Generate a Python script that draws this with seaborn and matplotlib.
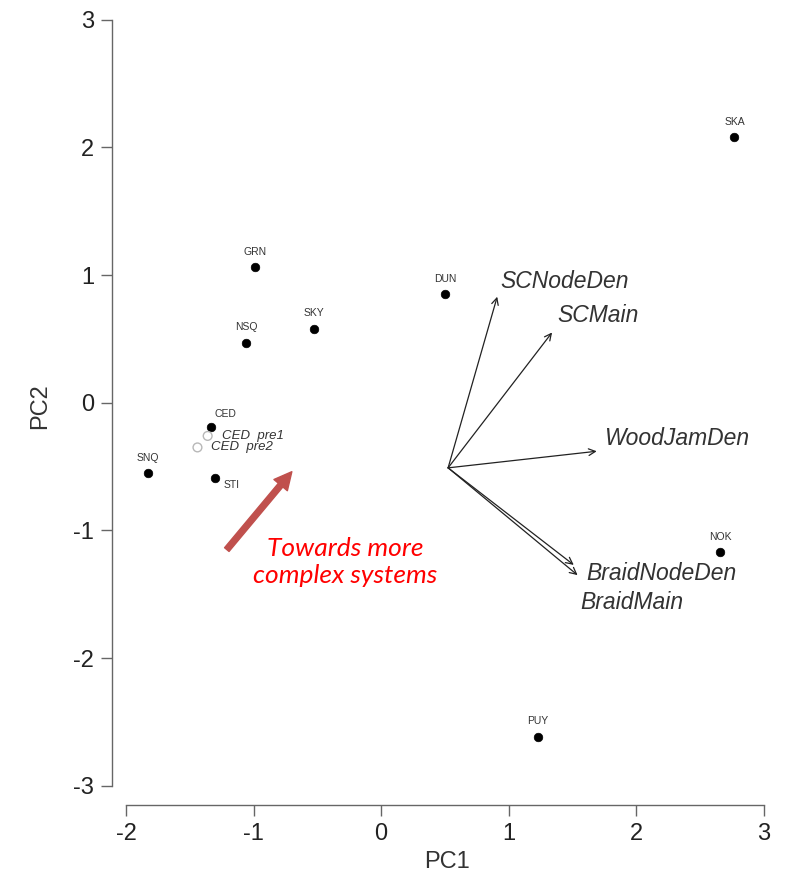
import matplotlib
matplotlib.use("Agg")
import matplotlib.pyplot as plt
import seaborn as sns
import pandas as pd

# --- data ---
sites = ["SKA", "GRN", "DUN", "NSQ", "SKY", "CED", "SNQ", "STI", "NOK", "PUY"]
pc1 = [2.77, -0.99, 0.50, -1.06, -0.53, -1.33, -1.83, -1.30, 2.66, 1.23]
pc2 = [2.08, 1.06, 0.85, 0.47, 0.58, -0.19, -0.55, -0.59, -1.17, -2.62]

pre_sites = ["CED  pre1", "CED  pre2"]
pre_pc1 = [-1.36, -1.44]
pre_pc2 = [-0.26, -0.35]

load_names = ["SCNodeDen", "SCMain", "WoodJamDen", "BraidNodeDen", "BraidMain"]
load_x = [0.91, 1.34, 1.69, 1.51, 1.54]
load_y = [0.83, 0.55, -0.38, -1.27, -1.35]
load_origin = (0.525, -0.51)

x_ticks = [-2, -1, 0, 1, 2, 3]
y_ticks = [-3, -2, -1, 0, 1, 2, 3]

# --- figure ---
sns.set_style("white")
plt.rcParams["font.family"] = ["Liberation Sans", "DejaVu Sans"]

W, H = 785, 880
fig = plt.figure(figsize=(W / 100, H / 100), dpi=100)
xlim = (-2.11, 3.15)
ylim = (-3.15, 3.10)
# axes placement in pixel coordinates
left_px, bottom_px = 112, 805
ppx, ppy = 127.6, 127.8
x0_px = 381
y0_px = 403
right_px = x0_px + xlim[1] * ppx
top_px = y0_px - ylim[1] * ppy
ax = fig.add_axes([left_px / W, (H - bottom_px) / H,
                   (right_px - left_px) / W, (bottom_px - top_px) / H])

df = pd.DataFrame({"site": sites, "PC1": pc1, "PC2": pc2})
sns.scatterplot(data=df, x="PC1", y="PC2", color="black", s=38,
                edgecolor="black", linewidth=0.5, ax=ax, zorder=3)
dfp = pd.DataFrame({"site": pre_sites, "PC1": pre_pc1, "PC2": pre_pc2})
sns.scatterplot(data=dfp, x="PC1", y="PC2", facecolor="none",
                edgecolor="#b8b8b8", s=40, linewidth=1.0, ax=ax, zorder=3)

ax.set_xlim(*xlim)
ax.set_ylim(*ylim)

# site labels (offsets in points)
lab_off = {"SKA": (0, 11, "center"), "GRN": (0, 11, "center"),
           "DUN": (0, 11, "center"), "NSQ": (0, 11, "center"),
           "SKY": (0, 11, "center"), "CED": (2, 9, "left"),
           "SNQ": (0, 11, "center"), "STI": (6, -5, "left"),
           "NOK": (0, 11, "center"), "PUY": (0, 12, "center")}
for s, x, y in zip(sites, pc1, pc2):
    dx, dy, ha = lab_off[s]
    ax.annotate(s, (x, y), xytext=(dx, dy), textcoords="offset points",
                ha=ha, va="center", fontsize=7.5, color="#333333")
pre_off = [(10, 0), (10, 0)]
for s, x, y, (dx, dy) in zip(pre_sites, pre_pc1, pre_pc2, pre_off):
    ax.annotate(s, (x, y), xytext=(dx, dy), textcoords="offset points",
                ha="left", va="center", fontsize=9.5, color="#333333",
                style="italic")

# loading arrows
lab_pos = {"SCNodeDen": (2, 11), "SCMain": (4, 12), "WoodJamDen": (5, 9),
           "BraidNodeDen": (9, -6), "BraidMain": (2, -20)}
for n, x, y in zip(load_names, load_x, load_y):
    ax.annotate("", xy=(x, y), xytext=load_origin,
                arrowprops=dict(arrowstyle="->", color="#222222", lw=0.9,
                                mutation_scale=12, shrinkA=0, shrinkB=0))
    dx, dy = lab_pos[n]
    ax.annotate(n, (x, y), xytext=(dx, dy), textcoords="offset points",
                ha="left", va="center", fontsize=16.5, style="italic",
                color="#333333")

# red annotation arrow
ax.annotate("", xy=(-0.70, -0.54), xytext=(-1.21, -1.15),
            arrowprops=dict(arrowstyle="simple,head_width=0.9,head_length=0.9,tail_width=0.3",
                            color="#C0504D", mutation_scale=14, shrinkA=0, shrinkB=0))
ax.text(-0.28, -1.25, "Towards more\ncomplex systems", color="#FF0000",
        fontsize=19, style="italic", ha="center", va="center",
        family=["Lato", "DejaVu Sans"], linespacing=1.2)

# axes styling (R-like detached axes)
for sp in ["top", "right"]:
    ax.spines[sp].set_visible(False)
ax.spines["left"].set_bounds(-3, 3)
ax.spines["bottom"].set_bounds(-2, 3)
for sp in ["left", "bottom"]:
    ax.spines[sp].set_color("#666666")
    ax.spines[sp].set_linewidth(1.0)
ax.set_xticks(x_ticks)
ax.set_yticks(y_ticks)
ax.set_xticklabels([str(t) for t in x_ticks])
ax.set_yticklabels([str(t) for t in y_ticks])
ax.tick_params(axis="both", length=8, width=1.0, color="#666666",
               labelsize=17, labelcolor="#222222", direction="out", pad=5,
               left=True, bottom=True)
ax.set_xlabel("PC1", fontsize=17, color="#333333", labelpad=4)
ax.set_ylabel("PC2", fontsize=17, color="#333333", labelpad=16)

fig.savefig("out.png", dpi=100, facecolor="white")
